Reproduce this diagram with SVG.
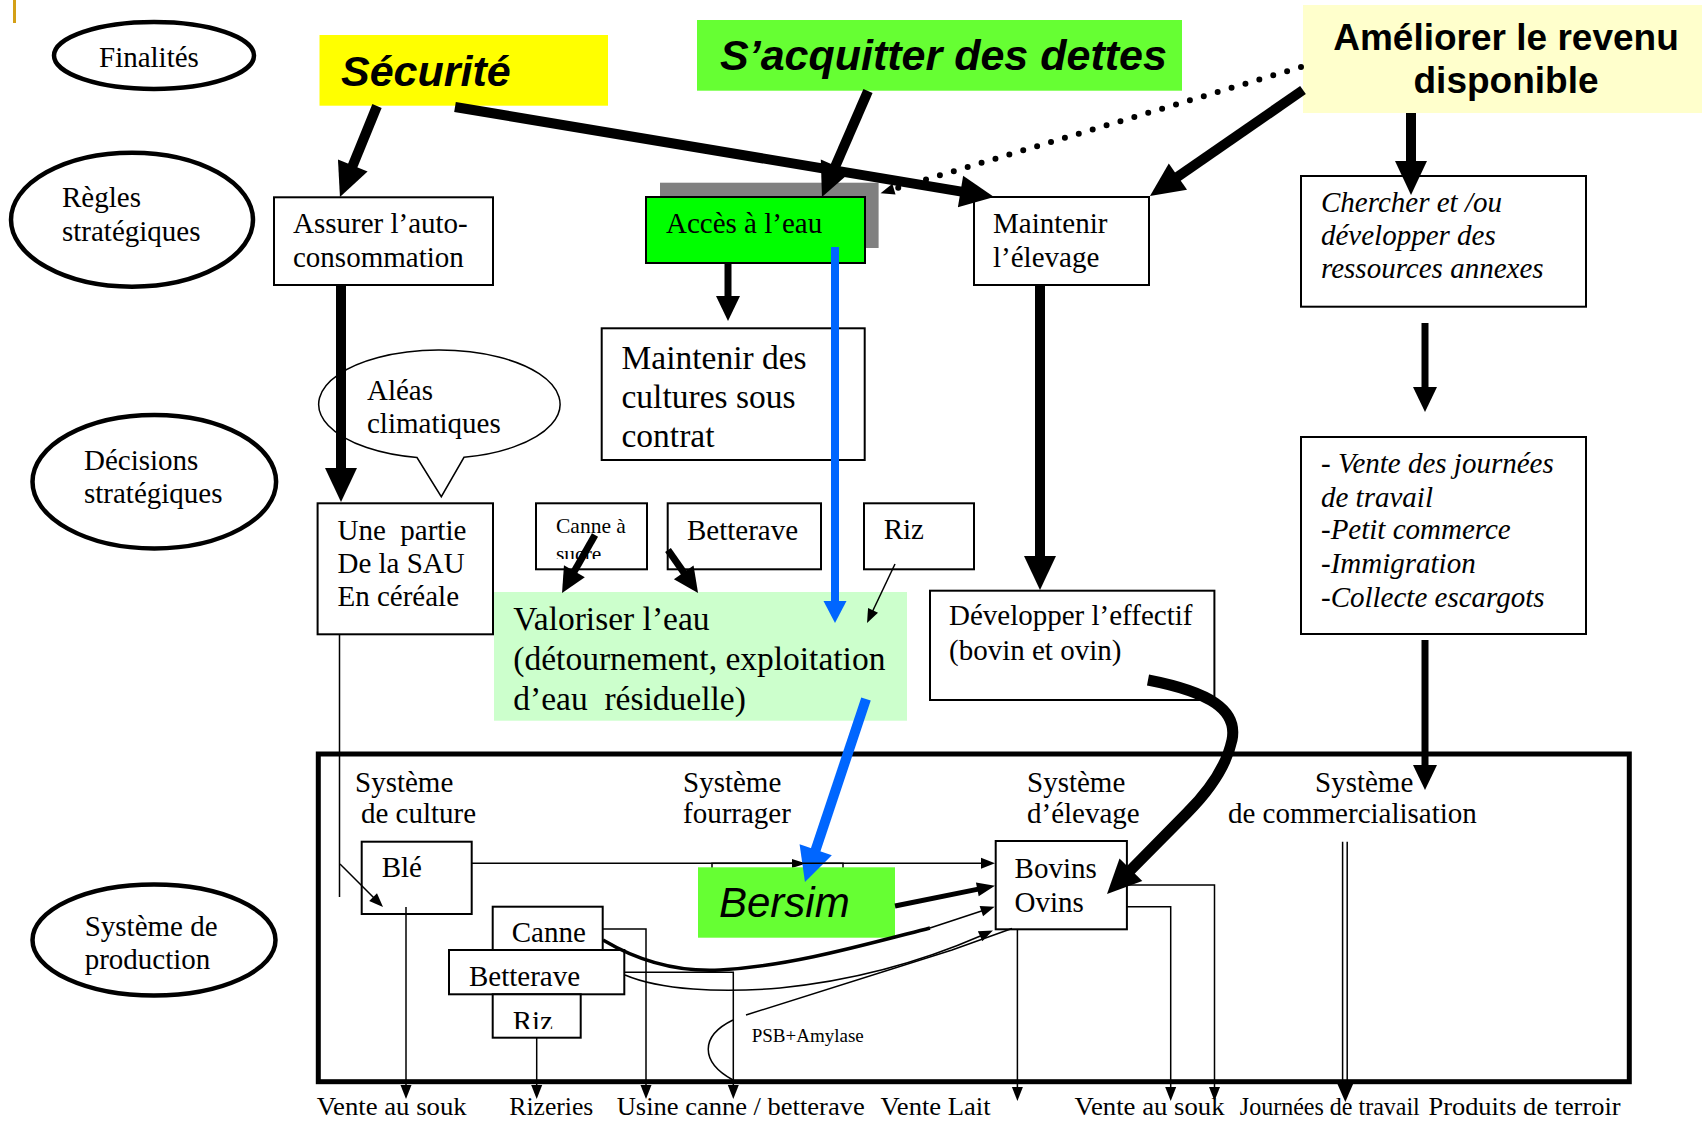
<svg xmlns="http://www.w3.org/2000/svg" width="1702" height="1122" viewBox="0 0 1702 1122">
<style>
.box{fill:#fff;stroke:#000;stroke-width:2}
.ell{fill:#fff;stroke:#000;stroke-width:4.5}
.t{font-family:"Liberation Serif","Times New Roman",serif;font-size:29px;fill:#000}
.ti{font-family:"Liberation Serif","Times New Roman",serif;font-size:29px;font-style:italic;fill:#000}
.tl{font-family:"Liberation Serif","Times New Roman",serif;font-size:33.5px;fill:#000}
.tb{font-family:"Liberation Serif","Times New Roman",serif;font-size:26px;fill:#000}
.big{font-family:"Liberation Sans",Arial,sans-serif;font-weight:bold;font-style:italic;font-size:43px;fill:#000}
.thick{stroke:#000;stroke-width:10;fill:none}
.med{stroke:#000;stroke-width:7;fill:none}
.thin{stroke:#000;stroke-width:1.5;fill:none}
.blue{stroke:#0066ff;fill:none}
</style>
<defs>
<marker id="hk" markerUnits="userSpaceOnUse" orient="auto" refX="1" refY="16" markerWidth="34" markerHeight="32" overflow="visible"><path d="M0,0 L34,16 L0,32 z" fill="#000"/></marker>
<marker id="hm" markerUnits="userSpaceOnUse" orient="auto" refX="1" refY="12" markerWidth="25" markerHeight="24" overflow="visible"><path d="M0,0 L25,12 L0,24 z" fill="#000"/></marker>
<marker id="hs" markerUnits="userSpaceOnUse" orient="auto" refX="1" refY="5.5" markerWidth="14" markerHeight="11" overflow="visible"><path d="M0,0 L14,5.5 L0,11 z" fill="#000"/></marker>
<marker id="hs2" markerUnits="userSpaceOnUse" orient="auto" refX="1" refY="7" markerWidth="18" markerHeight="14" overflow="visible"><path d="M0,0 L18,7 L0,14 z" fill="#000"/></marker>
<marker id="hb1" markerUnits="userSpaceOnUse" orient="auto" refX="1" refY="11.5" markerWidth="22" markerHeight="23" overflow="visible"><path d="M0,0 L22,11.5 L0,23 z" fill="#0066ff"/></marker>
<marker id="hb2" markerUnits="userSpaceOnUse" orient="auto" refX="1" refY="17" markerWidth="34" markerHeight="34" overflow="visible"><path d="M0,0 L34,17 L0,34 z" fill="#0066ff"/></marker>
<clipPath id="clipSucre"><rect x="536" y="503" width="111" height="56"/></clipPath>
<clipPath id="clipRiz"><rect x="492" y="994" width="89" height="35"/></clipPath>
</defs>
<rect x="0" y="0" width="1702" height="1122" fill="#fff"/>
<rect x="13" y="0" width="3" height="23" fill="#d4a017"/>

<g id="levels">
<g id="lvl-finalites"><ellipse class="ell" cx="154" cy="55.5" rx="100" ry="33.5"/><text class="t" x="99" y="66.7">Finalités</text></g>
<g id="lvl-regles"><ellipse class="ell" cx="132" cy="219.7" rx="121" ry="67"/><text class="t"><tspan x="62" y="207.3">Règles</tspan><tspan x="62" y="240.7">stratégiques</tspan></text></g>
<g id="lvl-decisions"><ellipse class="ell" cx="154.3" cy="481.7" rx="121.8" ry="66.7"/><text class="t"><tspan x="84" y="470">Décisions</tspan><tspan x="84" y="503.3">stratégiques</tspan></text></g>
<g id="lvl-production"><ellipse class="ell" cx="154" cy="940" rx="121.5" ry="55.5"/><text class="t"><tspan x="84.7" y="935.7">Système de</tspan><tspan x="84.7" y="969">production</tspan></text></g>
</g>

<g id="nodes">
<g id="securite"><rect x="319.5" y="35" width="288.5" height="70.7" fill="#ffff00"/><text class="big" x="341" y="86">Sécurité</text></g>
<g id="dettes"><rect x="697" y="20" width="485" height="70.7" fill="#66ff33"/><text class="big" x="720" y="70">S’acquitter des dettes</text></g>
<g id="revenu"><rect x="1303" y="5" width="399" height="108" fill="#ffffcc"/><text font-family="Liberation Sans, Arial, sans-serif" font-weight="bold" font-size="37" text-anchor="middle"><tspan x="1506" y="50">Améliorer le revenu</tspan><tspan x="1506" y="93.3">disponible</tspan></text></g>
<g id="assurer"><rect class="box" x="274" y="197.3" width="219" height="87.7"/><text class="t"><tspan x="293" y="233.3">Assurer l’auto-</tspan><tspan x="293" y="266.7">consommation</tspan></text></g>
<g id="acces"><rect x="660" y="182.7" width="218.6" height="65.3" fill="#808080"/><rect x="646" y="197" width="219" height="66" fill="#00ff00" stroke="#000" stroke-width="2"/><text class="t" x="666" y="233.3">Accès à l’eau</text></g>
<g id="maintenir-elevage"><rect class="box" x="974" y="197" width="175" height="88"/><text class="t"><tspan x="993" y="233.3">Maintenir</tspan><tspan x="993" y="266.7">l’élevage</tspan></text></g>
<g id="chercher"><rect class="box" x="1301" y="176" width="285" height="130.7"/><text class="ti"><tspan x="1321" y="211.7">Chercher et /ou</tspan><tspan x="1321" y="245">développer des</tspan><tspan x="1321" y="277.7">ressources annexes</tspan></text></g>
<g id="cultures-contrat"><rect class="box" x="601.7" y="328.3" width="263" height="131.7"/><text class="tl"><tspan x="621.5" y="369">Maintenir des</tspan><tspan x="621.5" y="408.3">cultures sous</tspan><tspan x="621.5" y="446.7">contrat</tspan></text></g>
<g id="aleas"><path d="M417,457.5 A120.7,54.2 0 1 1 464,457.3 L441.3,496.7 Z" fill="#fff" stroke="#000" stroke-width="1.5"/><text class="t"><tspan x="367" y="400">Aléas</tspan><tspan x="367" y="433.3">climatiques</tspan></text></g>
<g id="vente-journees"><rect class="box" x="1301" y="437" width="285" height="197"/><text class="ti"><tspan x="1321" y="473.3">- Vente des journées</tspan><tspan x="1321" y="506.7">de travail</tspan><tspan x="1321" y="539.3">-Petit commerce</tspan><tspan x="1321" y="573.3">-Immigration</tspan><tspan x="1321" y="606.7">-Collecte escargots</tspan></text></g>
<g id="une-partie"><rect class="box" x="317.6" y="503.3" width="175.4" height="131"/><text class="t"><tspan x="337.5" y="540" xml:space="preserve">Une  partie</tspan><tspan x="337.5" y="573.3">De la SAU</tspan><tspan x="337.5" y="606">En céréale</tspan></text></g>
<g id="canne-sucre"><rect class="box" x="536" y="503.3" width="111" height="66"/><text font-family="Liberation Serif, Times New Roman, serif" font-size="21.5"><tspan x="556" y="533.3">Canne à</tspan></text><text font-family="Liberation Serif, Times New Roman, serif" font-size="21.5" clip-path="url(#clipSucre)" x="556" y="561">sucre</text></g>
<g id="betterave-1"><rect class="box" x="667.7" y="503.3" width="153.3" height="66"/><text class="t" x="687" y="540">Betterave</text></g>
<g id="riz-1"><rect class="box" x="864" y="503.3" width="110" height="66"/><text class="t" x="883.7" y="539">Riz</text></g>
<g id="valoriser"><rect x="494" y="592" width="413" height="128.7" fill="#ccffcc"/><text class="tl"><tspan x="513.3" y="630">Valoriser l’eau</tspan><tspan x="513.3" y="670">(détournement, exploitation</tspan><tspan x="513.3" y="710" xml:space="preserve">d’eau  résiduelle)</tspan></text></g>
<g id="developper"><rect class="box" x="930" y="590.7" width="284.4" height="109.3"/><text class="t"><tspan x="949" y="625">Développer l’effectif</tspan><tspan x="949" y="660">(bovin et ovin)</tspan></text></g>

<g id="systeme-production">
<rect x="318.3" y="754" width="1311" height="327.7" fill="none" stroke="#000" stroke-width="5"/>
<text class="t"><tspan x="355" y="791.7">Système</tspan><tspan x="361" y="823.3">de culture</tspan></text>
<text class="t"><tspan x="683" y="791.7">Système</tspan><tspan x="683" y="823.3">fourrager</tspan></text>
<text class="t"><tspan x="1027" y="791.7">Système</tspan><tspan x="1027" y="823.3">d’élevage</tspan></text>
<text class="t"><tspan x="1315" y="791.7">Système</tspan><tspan x="1228" y="823.3">de commercialisation</tspan></text>
</g>
<g id="ble"><rect class="box" x="361.7" y="841.7" width="110" height="72.3"/><text class="t" x="381.7" y="876.7">Blé</text></g>
<g id="canne-2"><rect class="box" x="492.7" y="906.7" width="110" height="43.3"/><text class="t" font-size="27" x="511.7" y="941.7">Canne</text></g>
<g id="betterave-2"><rect class="box" x="449" y="950" width="175.3" height="44.3"/><text class="t" x="469" y="986">Betterave</text></g>
<g id="riz-2"><rect class="box" x="492.7" y="994.3" width="88" height="43.4"/><text class="t" x="512.7" y="1031" clip-path="url(#clipRiz)">Riz</text></g>
<g id="bersim"><rect x="712" y="863.3" width="131" height="30" fill="none" stroke="#000" stroke-width="1.5"/><path d="M792,859 L806,863.5 L792,868 z" fill="#000"/><rect x="698" y="867.3" width="197" height="70.4" fill="#66ff33"/><text font-family="Liberation Sans, Arial, sans-serif" font-style="italic" font-size="42" x="719" y="916.7">Bersim</text></g>
<g id="bovins"><rect class="box" x="995.7" y="841" width="131.2" height="88.3"/><text class="t"><tspan x="1014.6" y="877.7">Bovins</tspan><tspan x="1014.6" y="911.7">Ovins</tspan></text></g>
<g id="psb-label"><text font-family="Liberation Serif, Times New Roman, serif" font-size="19" x="751.7" y="1041.7">PSB+Amylase</text></g>
</g>

<g id="connectors">
<path class="thick" d="M377,106 L352.4,166.4" marker-end="url(#hk)"/>
<path class="thick" d="M455,107 L961.5,191.6" marker-end="url(#hk)"/>
<path class="thick" d="M868,91 L835.1,166.7" marker-end="url(#hk)"/>
<path class="thick" d="M1303,90 L1177.1,177.2" marker-end="url(#hk)"/>
<path class="thick" d="M1411,113 L1411,162" marker-end="url(#hk)"/>
<path d="M1301,67 L893,189.4" fill="none" stroke="#000" stroke-width="6" stroke-linecap="round" stroke-dasharray="0 14.5" marker-end="url(#hs)"/>
<path class="thick" d="M341,285 L341,469" marker-end="url(#hk)"/>
<path class="thick" d="M1040,285 L1040,557" marker-end="url(#hk)"/>
<path class="med" d="M728,264 L728,297" marker-end="url(#hm)"/>
<path class="med" d="M1425,323 L1425,388" marker-end="url(#hm)"/>
<path class="med" d="M1425,640 L1425,766" marker-end="url(#hm)"/>
<path class="med" d="M595,535 L573.9,572.1" marker-end="url(#hm)"/>
<path class="med" d="M668,550 L684.3,573.3" marker-end="url(#hm)"/>
<path class="thin" d="M895,564 L872.6,611.3" marker-end="url(#hs)"/>
<path class="blue" stroke-width="8" d="M835,247 L835,602" marker-end="url(#hb1)"/>
<path class="blue" stroke-width="10" d="M866,699 L815.4,850.7" marker-end="url(#hb2)"/>
<path d="M1148,680 C1210,692 1238,710 1232,740 C1226,768 1205,795 1187,813 L1130.2,870.5" fill="none" stroke="#000" stroke-width="11" marker-end="url(#hk)"/>
<path class="thin" d="M339.5,634 L339.5,897"/>
<path class="thin" d="M340,864 L373.8,897.8" marker-end="url(#hs)"/>
<path class="thin" d="M472,863.3 L982,863.3" marker-end="url(#hs)"/>
<path class="thin" d="M406,907 L406,1086" marker-end="url(#hs)"/>
<path class="thin" d="M536.7,1038 L536.7,1086" marker-end="url(#hs)"/>
<path class="thin" d="M603,929 L646,929 L646,1086" marker-end="url(#hs)"/>
<path class="thin" d="M624.5,972.3 L733.3,972.3 L733.3,1086" marker-end="url(#hs)"/>
<path class="thin" d="M1017.4,929 L1017.4,1088" marker-end="url(#hs)"/>
<path class="thin" d="M1127,906.7 L1170.7,906.7 L1170.7,1088" marker-end="url(#hs)"/>
<path class="thin" d="M1127,885 L1214.5,885 L1214.5,1088" marker-end="url(#hs)"/>
<path class="thin" d="M1342.6,841.7 L1342.6,1083 M1347.2,841.7 L1347.2,1083"/>
<path d="M1336.6,1082 L1354,1082 L1345.3,1102 z" fill="#000"/>
<path d="M895,906 L978.3,889.1" fill="none" stroke="#000" stroke-width="5" marker-end="url(#hs2)"/>
<path d="M603,940 C640,962 680,972 720,970 C790,966 860,946 930,928" fill="none" stroke="#000" stroke-width="3.5"/>
<path class="thin" d="M930,928 L982.3,910.8" marker-end="url(#hs)"/>
<path class="thin" d="M625,975 C660,990 720,993 780,988 C860,980 930,958 981,935.8" marker-end="url(#hs)"/>
<path class="thin" d="M746,1015 L952,950 L1012,928.5"/>
<path class="thin" d="M733,1020 C700,1036 700,1062 733,1080"/>
</g>

<g id="outputs">
<text class="tb" x="316.7" y="1115" textLength="150" lengthAdjust="spacingAndGlyphs">Vente au souk</text>
<text class="tb" x="509.3" y="1115" textLength="84" lengthAdjust="spacingAndGlyphs">Rizeries</text>
<text class="tb" x="616.7" y="1115" textLength="248" lengthAdjust="spacingAndGlyphs">Usine canne / betterave</text>
<text class="tb" x="880.6" y="1115" textLength="110" lengthAdjust="spacingAndGlyphs">Vente Lait</text>
<text class="tb" x="1074.6" y="1115" textLength="150" lengthAdjust="spacingAndGlyphs">Vente au souk</text>
<text class="tb" x="1239.8" y="1115" textLength="180" lengthAdjust="spacingAndGlyphs">Journées de travail</text>
<text class="tb" x="1428.5" y="1115" textLength="192" lengthAdjust="spacingAndGlyphs">Produits de terroir</text>
</g>
</svg>
